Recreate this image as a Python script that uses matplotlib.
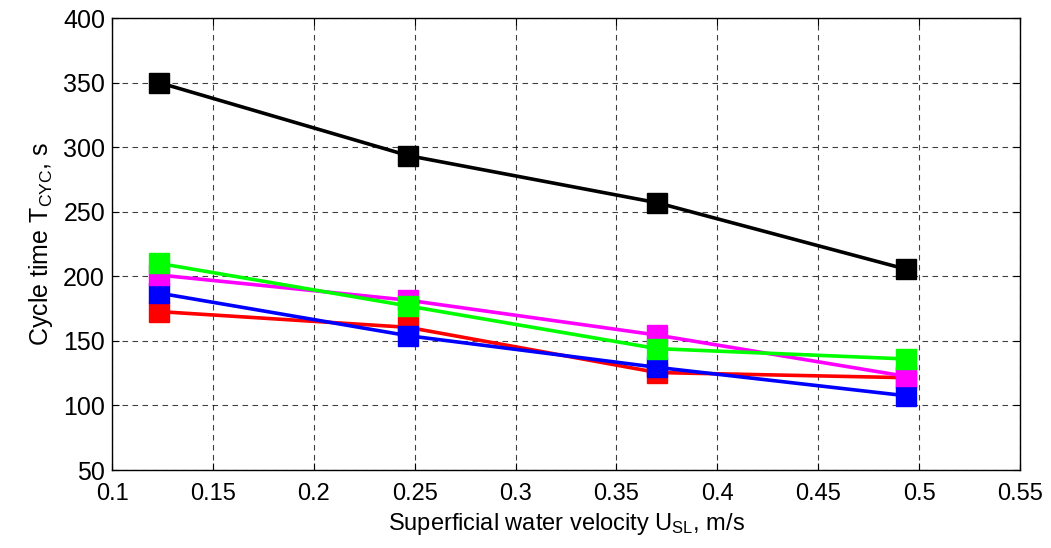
import matplotlib
matplotlib.use("Agg")
import matplotlib.pyplot as plt

plt.rcParams['font.family'] = ['Liberation Sans', 'DejaVu Sans']
plt.rcParams['mathtext.fontset'] = 'custom'
plt.rcParams['mathtext.rm'] = 'Liberation Sans'
plt.rcParams['mathtext.it'] = 'Liberation Sans'

# Data
velocity = [0.1234, 0.2468, 0.3702, 0.4936]
series_red = [172.7, 160.5, 125.5, 121.5]
series_blue = [187.0, 154.0, 129.5, 107.5]
series_magenta = [201.0, 181.5, 154.5, 122.5]
series_green = [210.0, 177.0, 144.0, 136.0]
series_black = [350.0, 293.5, 257.0, 205.5]

series = [
    (series_red, '#ff0000'),
    (series_blue, '#0000ff'),
    (series_magenta, '#ff00ff'),
    (series_green, '#00ff00'),
    (series_black, '#000000'),
]

xticks = [0.1, 0.15, 0.2, 0.25, 0.3, 0.35, 0.4, 0.45, 0.5, 0.55]
yticks = [50, 100, 150, 200, 250, 300, 350, 400]

fig = plt.figure(figsize=(10.51, 5.48), dpi=100)
ax = fig.add_axes([0.1066, 0.1423, 0.8639, 0.8247])

for vals, col in series:
    ax.plot(velocity, vals, color=col, lw=2.6, marker='s', markersize=14.5,
            markerfacecolor=col, markeredgecolor=col, zorder=3)

ax.set_xlim(0.1, 0.55)
ax.set_ylim(50, 400)
ax.set_xticks(xticks)
ax.set_yticks(yticks)
ax.set_xticklabels([f"{t:g}" for t in xticks], fontsize=17)
ax.set_yticklabels([str(t) for t in yticks], fontsize=18)
ax.tick_params(direction='in', top=True, right=True, length=5, width=0.8)
ax.tick_params(axis='x', pad=9)
ax.tick_params(axis='y', pad=5)
ax.grid(True, color='black', linestyle=(0, (5, 4)), linewidth=0.8, alpha=0.75)
for s in ax.spines.values():
    s.set_linewidth(1.0)

ax.set_xlabel(r'Superficial water velocity U$_{\mathrm{SL}}$, m/s', fontsize=17, labelpad=5)
ax.set_ylabel(r'Cycle time T$_{\mathrm{CYC}}$, s', fontsize=18, labelpad=6)

fig.savefig('out.png', dpi=100)
